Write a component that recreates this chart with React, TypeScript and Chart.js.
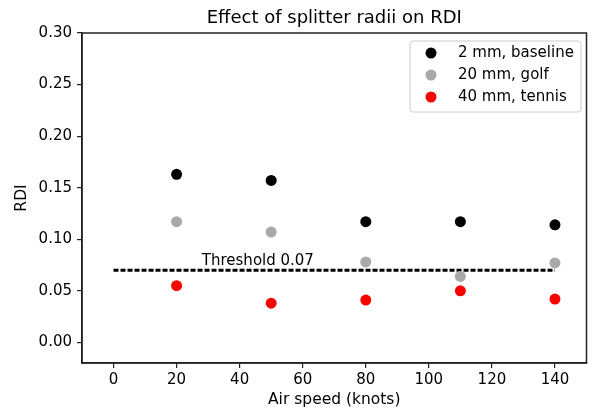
import React, { useEffect, useRef } from 'react';
import { Chart, registerables } from 'chart.js';

Chart.register(...registerables);

const airSpeeds = [20, 50, 80, 110, 140];
const baseline2mm = [0.163, 0.157, 0.117, 0.117, 0.114];
const golf20mm = [0.117, 0.107, 0.078, 0.064, 0.077];
const tennis40mm = [0.055, 0.038, 0.041, 0.05, 0.042];
const thresholdValue = 0.07;
const thresholdStart = 0;
const thresholdEnd = 140;
const thresholdText = 'Threshold 0.07';
const seriesLabels = ['2 mm, baseline', '20 mm, golf', '40 mm, tennis'];
const seriesColors = ['#000000', '#a9a9a9', '#ff0000'];
const xTickValues = [0, 20, 40, 60, 80, 100, 120, 140];
const yTickValues = [0, 0.05, 0.1, 0.15, 0.2, 0.25, 0.3];
const chartTitle = 'Effect of splitter radii on RDI';
const xAxisTitle = 'Air speed (knots)';
const yAxisTitle = 'RDI';

const FONT = '"DejaVu Sans", sans-serif';

const decorPlugin = {
  id: 'decor',
  afterDraw(chart: any) {
    const ctx = chart.ctx as CanvasRenderingContext2D;
    const a = chart.chartArea;
    const xs = chart.scales.x;
    const ys = chart.scales.y;
    ctx.save();
    // frame
    ctx.strokeStyle = '#222';
    ctx.lineWidth = 1.5;
    ctx.strokeRect(a.left, a.top, a.right - a.left, a.bottom - a.top);

    // title
    ctx.fillStyle = '#000';
    ctx.font = `18px ${FONT}`;
    ctx.textAlign = 'center';
    ctx.textBaseline = 'middle';
    ctx.fillText(chartTitle, (a.left + a.right) / 2, 18);

    // axis titles
    ctx.font = `15.5px ${FONT}`;
    ctx.fillText(xAxisTitle, (a.left + a.right) / 2, 400);
    ctx.save();
    ctx.translate(22, (a.top + a.bottom) / 2);
    ctx.rotate(-Math.PI / 2);
    ctx.fillText(yAxisTitle, 0, 0);
    ctx.restore();

    // threshold annotation
    ctx.textAlign = 'left';
    ctx.textBaseline = 'alphabetic';
    ctx.font = `15px ${FONT}`;
    ctx.fillText(thresholdText, xs.getPixelForValue(28), ys.getPixelForValue(thresholdValue) - 5.5);

    // legend
    const lx = 410, ly = 41, lw = 171, lh = 71;
    ctx.beginPath();
    const r = 3;
    ctx.moveTo(lx + r, ly);
    ctx.arcTo(lx + lw, ly, lx + lw, ly + lh, r);
    ctx.arcTo(lx + lw, ly + lh, lx, ly + lh, r);
    ctx.arcTo(lx, ly + lh, lx, ly, r);
    ctx.arcTo(lx, ly, lx + lw, ly, r);
    ctx.closePath();
    ctx.fillStyle = 'rgba(255,255,255,0.85)';
    ctx.fill();
    ctx.strokeStyle = '#cccccc';
    ctx.lineWidth = 1;
    ctx.stroke();
    ctx.font = `15px ${FONT}`;
    ctx.textBaseline = 'middle';
    seriesLabels.forEach((lab, i) => {
      const y = 53 + i * 22;
      ctx.beginPath();
      ctx.arc(431, y, 5.5, 0, Math.PI * 2);
      ctx.fillStyle = seriesColors[i];
      ctx.fill();
      ctx.fillStyle = '#000';
      ctx.fillText(lab, 458, y);
    });
    ctx.restore();
  },
};

export default function App() {
  const ref = useRef<HTMLCanvasElement | null>(null);
  useEffect(() => {
    if (!ref.current) return;
    const toPts = (vals: number[]) => airSpeeds.map((x, i) => ({ x, y: vals[i] }));
    const series = [baseline2mm, golf20mm, tennis40mm];
    const chart = new Chart(ref.current, {
      type: 'scatter',
      data: {
        datasets: [
          {
            label: 'Threshold',
            data: [
              { x: thresholdStart, y: thresholdValue },
              { x: thresholdEnd, y: thresholdValue },
            ],
            showLine: true,
            borderColor: '#000',
            borderWidth: 3,
            borderDash: [5, 2],
            pointRadius: 0,
            order: 2,
          } as any,
          ...series.map((vals, i) => ({
            label: seriesLabels[i],
            data: toPts(vals),
            backgroundColor: seriesColors[i],
            borderColor: seriesColors[i],
            pointRadius: 5.5,
            borderWidth: 0,
            order: 1,
          })),
        ],
      },
      options: {
        responsive: false,
        animation: false,
        layout: { padding: { top: 33, right: 4, left: 0, bottom: 0 } },
        plugins: { legend: { display: false }, tooltip: { enabled: false }, title: { display: false } },
        scales: {
          x: {
            type: 'linear',
            min: -10,
            max: 150,
            afterFit: (s: any) => { s.height = 49; },
            afterBuildTicks: (s: any) => { s.ticks = xTickValues.map((v) => ({ value: v })); },
            grid: { drawOnChartArea: false, drawTicks: true, tickLength: 5, color: '#222', lineWidth: 1.2 },
            border: { display: true, color: '#222', width: 1.5 },
            ticks: { color: '#000', font: { family: FONT, size: 15 }, padding: 3, maxRotation: 0, callback: (v: any) => String(v) },
          },
          y: {
            type: 'linear',
            min: -0.02,
            max: 0.3,
            afterFit: (s: any) => { s.width = 82; },
            afterBuildTicks: (s: any) => { s.ticks = yTickValues.map((v) => ({ value: v })); },
            grid: { drawOnChartArea: false, drawTicks: true, tickLength: 5, color: '#222', lineWidth: 1.2 },
            border: { display: true, color: '#222', width: 1.5 },
            ticks: { color: '#000', font: { family: FONT, size: 15 }, padding: 5, callback: (v: any) => Number(v).toFixed(2) },
          },
        },
      },
      plugins: [decorPlugin],
    });
    return () => chart.destroy();
  }, []);
  return (
    <div style={{ position: 'absolute', left: 0, top: 0, width: 592, height: 412, background: '#fff' }}>
      <canvas ref={ref} width={592} height={412} />
    </div>
  );
}
